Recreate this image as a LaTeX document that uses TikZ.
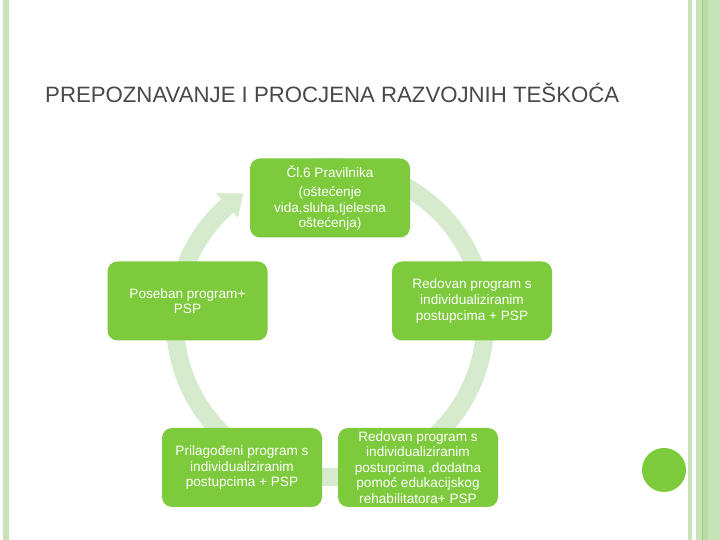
\documentclass[tikz,border=0pt]{standalone}
\usepackage{fontspec}
\setmainfont{Liberation Sans}
\usetikzlibrary{calc}
\definecolor{boxgreen}{RGB}{125,202,60}
\definecolor{ringgreen}{RGB}{214,235,205}
\definecolor{barlight}{RGB}{198,228,183}
\definecolor{barmid}{RGB}{184,221,164}
\definecolor{bardark}{RGB}{150,205,120}
\definecolor{titlegrey}{RGB}{72,72,72}
\tikzset{
  greenbox/.style={draw=none, fill=boxgreen, rounded corners=10pt, minimum width=160pt, minimum height=79pt,
    text=white, align=center, inner sep=2pt, font=\fontsize{13.6}{15.6}\selectfont},
  ring/.style={draw=ringgreen, line width=18pt},
}
\begin{document}
\begin{tikzpicture}[x=1pt,y=1pt]
\useasboundingbox (0,0) rectangle (720,540);
\fill[white] (0,0) rectangle (720,540);
% decorative bars
\fill[barlight] (3,0) rectangle (9,540);
\fill[barlight] (688,0) rectangle (692,540);
\fill[barlight] (696,0) rectangle (702,540);
\fill[bardark] (702,0) rectangle (703,540);
\fill[barmid] (703,0) rectangle (708,540);
\fill[barlight] (708,0) rectangle (720,540);
\node[circle, fill=boxgreen, minimum size=44pt, inner sep=0pt] (dot) at (664,70) {};
% title
\node[anchor=base west, text=titlegrey, font=\fontsize{22.2}{25}\selectfont, inner sep=0pt] (title) at (45,437)
  {PREPOZNAVANJE I PROCJENA RAZVOJNIH TEŠKOĆA};
% cycle ring
\coordinate (C) at (330,218);
\draw[ring] (C) ++(118:155) arc[start angle=118, end angle=-229, radius=155];
\fill[ringgreen] ($(C)+(131.5:139)$) -- ($(C)+(131.5:172)$) -- ($(C)+(124:155)$) -- cycle;
% boxes
\node[greenbox] (top) at (330,342) {Čl.6 Pravilnika\\[4pt](oštećenje\\vida,sluha,tjelesna\\oštećenja)};
\node[greenbox] (left) at (187.5,239) {Poseban program+\\PSP};
\node[greenbox] (right) at (472,239) {Redovan program s\\individualiziranim\\postupcima + PSP};
\node[greenbox] (bl) at (242,72.5) {Prilagođeni program s\\individualiziranim\\postupcima + PSP};
\node[greenbox] (br) at (418,72.5) {Redovan program s\\individualiziranim\\postupcima ,dodatna\\pomoć edukacijskog\\rehabilitatora+ PSP};
\end{tikzpicture}
\end{document}
